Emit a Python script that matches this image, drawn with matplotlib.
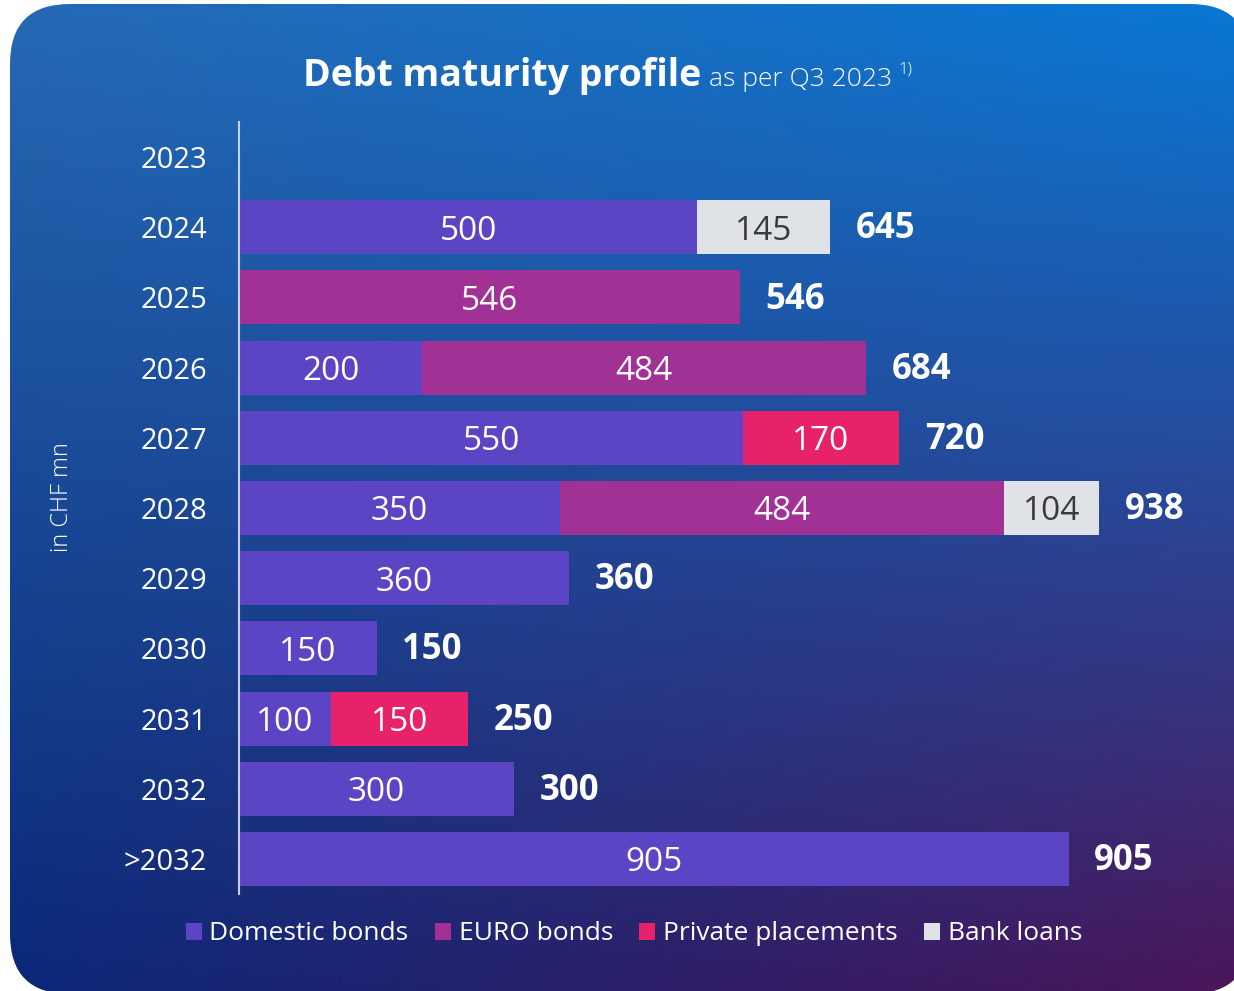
import numpy as np
import matplotlib
matplotlib.use("Agg")
import matplotlib.pyplot as plt
from matplotlib.patches import FancyBboxPatch

# Debt maturities in CHF mn per year and instrument
years = ["2023", "2024", "2025", "2026", "2027", "2028",
         "2029", "2030", "2031", "2032", ">2032"]
domestic_bonds = [0, 500, 0, 200, 550, 350, 360, 150, 100, 300, 905]
euro_bonds = [0, 0, 546, 484, 0, 484, 0, 0, 0, 0, 0]
private_placements = [0, 0, 0, 0, 170, 0, 0, 0, 150, 0, 0]
bank_loans = [0, 145, 0, 0, 0, 104, 0, 0, 0, 0, 0]

series_names = ["Domestic bonds", "EURO bonds", "Private placements", "Bank loans"]
series_colors = ["#5b45c4", "#a23196", "#e8226a", "#dfe2e6"]
label_colors = ["white", "white", "white", "#3a3a3a"]

plt.rcParams["font.family"] = ["Open Sans", "DejaVu Sans"]

W, H = 1234, 991
fig = plt.figure(figsize=(W / 100, H / 100), dpi=100, facecolor="white")

# Background panel: rounded rectangle filled with a diagonal gradient
bg = fig.add_axes([0, 0, 1, 1], zorder=0)
bg.set_xlim(0, W)
bg.set_ylim(0, H)
bg.axis("off")

tl = np.array([38, 105, 180]) / 255
tr = np.array([8, 120, 212]) / 255
bl = np.array([10, 40, 120]) / 255
br = np.array([75, 22, 90]) / 255
u = np.linspace(0, 1, 300)[None, :, None]
v = np.linspace(0, 1, 240)[:, None, None]
grad = (1 - v) * ((1 - u) * tl + u * tr) + v * ((1 - u) * bl + u * br)

panel = FancyBboxPatch((10, -3), 1240, 990, boxstyle="round,pad=0,rounding_size=60",
                       facecolor="none", edgecolor="none")
bg.add_patch(panel)
img = bg.imshow(grad, extent=[0, W, 0, H], origin="upper", aspect="auto",
                interpolation="bilinear")
img.set_clip_path(panel)

# Chart axes
ax = fig.add_axes([239 / W, 97 / H, 990 / W, 772 / H], zorder=1)
ax.patch.set_alpha(0)
ax.set_xlim(0, 1080)
ax.set_ylim(len(years) - 0.5, -0.5)

y = np.arange(len(years))
left = np.zeros(len(years))
for vals, name, color, tcol in zip(
        [domestic_bonds, euro_bonds, private_placements, bank_loans],
        series_names, series_colors, label_colors):
    vals = np.array(vals)
    bars = ax.barh(y, vals, left=left, height=0.77, color=color, label=name)
    for bar, val in zip(bars, vals):
        if val > 0:
            ax.text(bar.get_x() + bar.get_width() / 2, bar.get_y() + bar.get_height() / 2,
                    f"{val}", ha="center", va="center_baseline", fontsize=24,
                    color=tcol)
    left = left + vals

# Totals to the right of each bar
for yi, total in zip(y, left):
    if total > 0:
        ax.text(total + 28, yi + 0.03, f"{int(total)}", ha="left", va="center",
                fontsize=25, fontweight="bold", color="white")

ax.set_yticks(y)
ax.set_yticklabels(years, fontsize=21, color="white")
ax.tick_params(axis="y", length=0, pad=23)
ax.set_xticks([])
for side in ["top", "right", "bottom"]:
    ax.spines[side].set_visible(False)
ax.spines["left"].set_color("#c9cfdc")
ax.spines["left"].set_linewidth(1.5)

# Unit label
fig.text(62 / W, 1 - 497 / H, "in CHF mn", rotation=90, ha="center", va="center",
         fontsize=17, color="white", fontweight="light")

# Title with subtitle and footnote marker
renderer = fig.canvas.get_renderer()
t1 = bg.text(303, H - 86, "Debt maturity profile", fontsize=27, fontweight="bold",
             color="white", ha="left", va="baseline")
x1 = t1.get_window_extent(renderer).x1
t2 = bg.text(x1 + 8, H - 86, "as per Q3 2023", fontsize=19, fontweight="light",
             color="white", ha="left", va="baseline")
x2 = t2.get_window_extent(renderer).x1
bg.text(x2 + 6, H - 74, "1)", fontsize=12, fontweight="light", color="white",
        ha="left", va="baseline")

# Legend along the bottom
leg = fig.legend(loc="center", bbox_to_anchor=(634 / W, 1 - 934 / H), ncol=4,
                 frameon=False, fontsize=19, handlelength=0.6, handleheight=0.6,
                 handletextpad=0.3, columnspacing=1.0, borderaxespad=0)
for txt in leg.get_texts():
    txt.set_color("white")

fig.savefig("out.png", dpi=100, facecolor="white")
